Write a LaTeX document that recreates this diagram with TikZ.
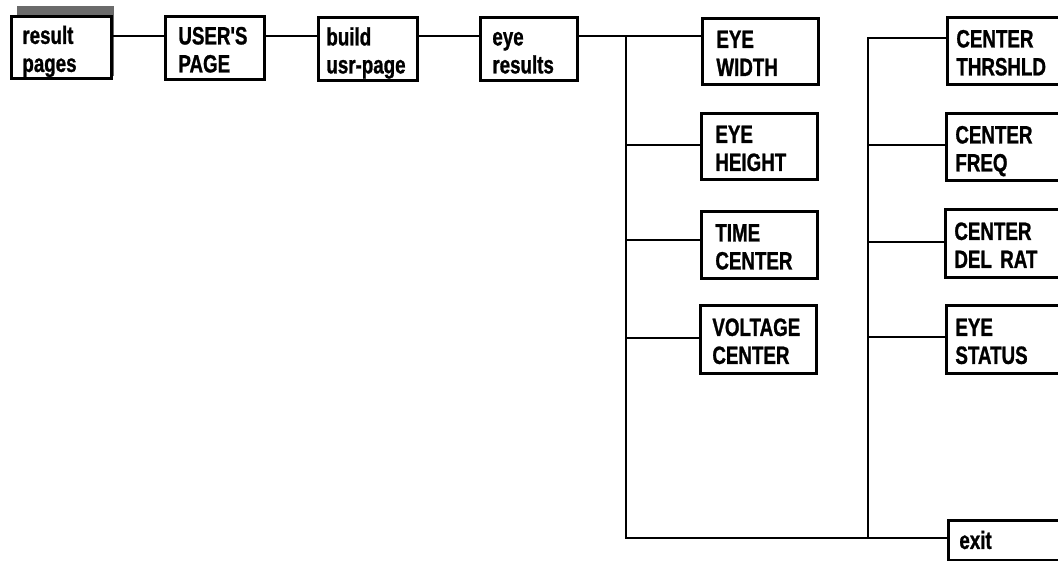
\documentclass[tikz,border=0pt]{standalone}
\usepackage{fontspec}
\newfontfamily\cond{Liberation Sans Bold}[FakeStretch=0.75,FakeBold=1]
\begin{document}
\begin{tikzpicture}[x=1pt,y=-1pt,
  box/.style={draw=black,line width=2.8pt,fill=white,anchor=north west,
    align=left,inner ysep=0pt,text height=21pt,text depth=28pt,
    font=\fontsize{25}{28}\selectfont\cond},
  conn/.style={line width=2.8pt,line cap=rect}]
\clip (0,0) rectangle (1058,561);
\fill[white] (0,0) rectangle (1058,561);
% shadow
\fill[black!58] (17,6) rectangle (114,76);
% boxes
\node[box,minimum width=100pt,minimum height=62pt,inner xsep=11pt,text width=78pt] (rp) at (10,15) {result\\pages};
\node[box,minimum width=99pt,minimum height=63pt,inner xsep=13pt,text width=73pt] (up) at (164,15) {USER'S\\PAGE};
\node[box,minimum width=99pt,minimum height=63pt,inner xsep=8pt,text width=83pt] (bu) at (317,16) {build\\\mbox{usr-page}};
\node[box,minimum width=97pt,minimum height=63pt,inner xsep=12pt,text width=73pt] (er) at (479,16) {eye\\results};
\node[box,minimum width=116pt,minimum height=66pt,inner xsep=14pt,text width=88pt] (ew) at (701,17) {EYE\\WIDTH};
\node[box,minimum width=116pt,minimum height=66pt,inner xsep=14pt,text width=88pt] (eh) at (700,112) {EYE\\HEIGHT};
\node[box,minimum width=116pt,minimum height=67pt,inner xsep=14pt,text width=88pt] (tc) at (700,210) {TIME\\CENTER};
\node[box,minimum width=116pt,minimum height=68pt,inner xsep=12pt,text width=92pt] (vc) at (699,304) {VOLTAGE\\CENTER};
\node[box,minimum width=150pt,minimum height=67pt,inner xsep=9pt,text width=132pt] (ct) at (946,16) {CENTER\\THRSHLD};
\node[box,minimum width=150pt,minimum height=67pt,inner xsep=9pt,text width=132pt] (cf) at (945,112) {CENTER\\FREQ};
\node[box,minimum width=150pt,minimum height=68pt,inner xsep=9pt,text width=132pt] (cd) at (944,208) {CENTER\\DEL RAT};
\node[box,minimum width=150pt,minimum height=68pt,inner xsep=9pt,text width=132pt] (es) at (945,304) {EYE\\STATUS};
\node[box,minimum width=150pt,minimum height=40pt,inner xsep=11pt,text width=128pt,text height=17pt,text depth=0pt] (ex) at (947,519) {exit};
% trunk coordinates
\coordinate (t1top) at (626,36);
\coordinate (t1bot) at (626,538);
\coordinate (t2top) at (868,38);
\coordinate (t2bot) at (868,538);
% connectors
\draw[conn] (rp.east |- 0,36) -- (up.west |- 0,36);
\draw[conn] (up.east |- 0,36) -- (bu.west |- 0,36);
\draw[conn] (bu.east |- 0,36) -- (er.west |- 0,36);
\draw[conn] (er.east |- 0,36) -- (ew.west |- 0,36);
\draw[conn] (t1top) -- (t1bot) -- (t2bot);
\draw[conn] (t1top |- 0,145) -- (eh.west |- 0,145);
\draw[conn] (t1top |- 0,240) -- (tc.west |- 0,240);
\draw[conn] (t1top |- 0,338) -- (vc.west |- 0,338);
\draw[conn] (t2top) -- (t2bot);
\draw[conn] (t2top) -- (ct.west |- t2top);
\draw[conn] (t2top |- 0,145) -- (cf.west |- 0,145);
\draw[conn] (t2top |- 0,242) -- (cd.west |- 0,242);
\draw[conn] (t2top |- 0,337) -- (es.west |- 0,337);
\draw[conn] (t2bot) -- (ex.west |- t2bot);
\end{tikzpicture}
\end{document}
